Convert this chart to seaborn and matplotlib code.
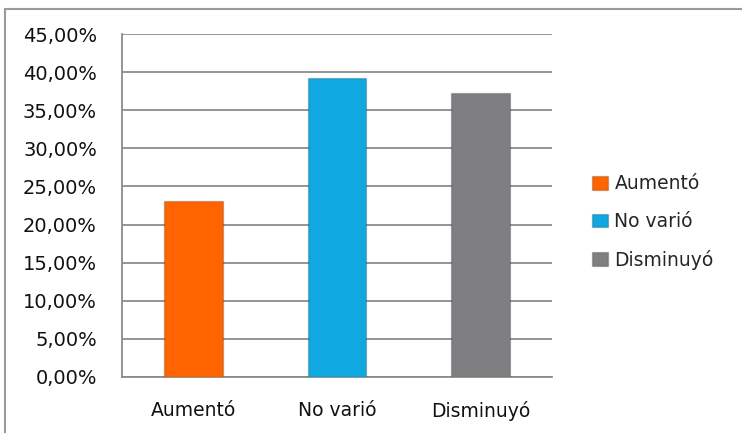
import matplotlib
matplotlib.use("Agg")
import matplotlib.pyplot as plt
import matplotlib.patches as mpatches
from matplotlib.lines import Line2D
from matplotlib.ticker import FuncFormatter, MultipleLocator, FixedLocator
import seaborn as sns
import pandas as pd

categories = ["Aumentó", "No varió", "Disminuyó"]
values = [23.1, 39.2, 37.3]
colors = ["#FF6400", "#10A8E0", "#7F7F82"]

sns.set_style("white")
plt.rcParams['font.family'] = ['DejaVu Sans']

df = pd.DataFrame({"categoria": categories, "valor": values})

fig = plt.figure(figsize=(7.42, 4.33), dpi=100)
ax = fig.add_axes([122 / 742, 56 / 433, 430 / 742, 343 / 433])

sns.barplot(data=df, x="categoria", y="valor", hue="categoria", palette=colors,
            saturation=1, width=0.41, ax=ax, legend=False, zorder=3,
            edgecolor="#00000030", linewidth=1)

ax.set_ylim(0, 45)
ax.set_xlim(-0.5, 2.5)
ax.yaxis.set_major_locator(MultipleLocator(5))
ax.yaxis.set_major_formatter(FuncFormatter(lambda v, p: f"{v:.2f}".replace(".", ",") + "%"))
ax.grid(axis="y", color="#8c8c8c", linewidth=1.3, zorder=0)
ax.set_axisbelow(True)

# category boundary ticks on x
ax.xaxis.set_minor_locator(FixedLocator([-0.5, 0.5, 1.5, 2.5]))
ax.tick_params(axis="x", which="major", length=0, labelsize=13.5, pad=17, labelcolor="#111111")
ax.tick_params(axis="x", which="minor", length=6, width=1.3, color="#8c8c8c", direction="out")
ax.tick_params(axis="y", which="major", length=6, width=1.3, color="#8c8c8c",
               direction="out", labelsize=14, pad=12, labelcolor="#111111")
ax.set_xlabel("")
ax.set_ylabel("")

for s in ["top", "right"]:
    ax.spines[s].set_visible(False)
for s in ["left", "bottom"]:
    ax.spines[s].set_color("#8c8c8c")
    ax.spines[s].set_linewidth(1.3)

handles = [mpatches.Patch(facecolor=c, edgecolor="#00000033") for c in colors]
fig.legend(handles, categories, loc="center left", bbox_to_anchor=(575 / 742, 211 / 433),
           frameon=False, fontsize=13.5, labelspacing=1.0, handlelength=0.85,
           handleheight=0.75, handletextpad=0.35)

# chart area border (only top and left visible in the crop)
fig.add_artist(Line2D([5 / 742, 1], [1 - 9 / 433, 1 - 9 / 433], transform=fig.transFigure,
                      color="#999999", linewidth=1.5))
fig.add_artist(Line2D([5 / 742, 5 / 742], [0, 1 - 9 / 433], transform=fig.transFigure,
                      color="#999999", linewidth=1.5))

fig.savefig("out.png", dpi=100)
plt.close(fig)
